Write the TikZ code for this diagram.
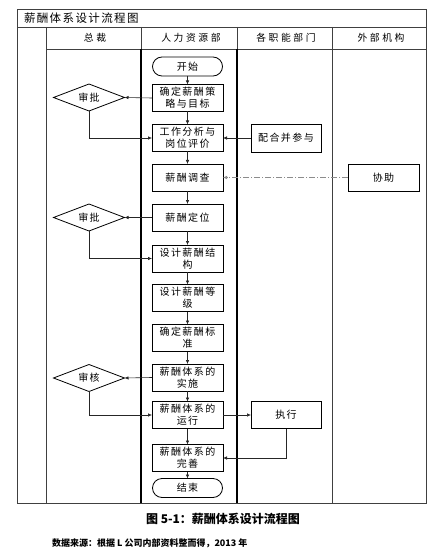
\documentclass[tikz,border=0pt]{standalone}
\usepackage{fontspec}
\setmainfont{Noto Sans CJK SC}
\newfontfamily\cjk[LetterSpace=14]{Noto Sans CJK SC}
\newfontfamily\cjkw[LetterSpace=26]{Noto Sans CJK SC}
\newfontfamily\cjkt[LetterSpace=12]{Noto Sans CJK SC}
\usetikzlibrary{shapes.geometric,arrows.meta}
\begin{document}
\begin{tikzpicture}[x=1pt,y=-1pt,
  every node/.style={inner sep=0pt, outer sep=0pt},
  txt/.style={font=\cjk\fontsize{10}{12}\selectfont, align=center},
  hdr/.style={font=\cjkw\fontsize{9.8}{12}\selectfont},
  box/.style={txt, draw, line width=0.8pt, minimum width=71pt, minimum height=27pt},
  term/.style={txt, draw, line width=0.8pt, rounded corners=9.5pt, minimum width=70pt, minimum height=19pt},
  dec/.style={txt, draw, diamond, aspect=2.6, line width=0.8pt, minimum width=71pt, minimum height=27pt},
  arr/.style={-{Latex[length=4pt,width=3.5pt]}, line width=0.6pt, draw=black!85},
  lane/.style={line width=0.6pt, draw=black!75},
  thicklane/.style={line width=1.6pt, draw=black},
  assist/.style={arr, draw=black!45, dash pattern=on 6pt off 2pt on 1pt off 2pt}
]
\useasboundingbox (0,0) rectangle (445,553);
% frame
\draw[lane] (17,9) rectangle (426,503);
\draw[lane] (17,27) -- (426,27);
\draw[lane] (46,49) -- (426,49);
\draw[lane] (46,27) -- (46,503);
\draw[lane] (141,27) -- (141,49);
\draw[lane] (237,27) -- (237,49);
\draw[lane] (332,27) -- (332,503);
\draw[thicklane] (141,49) -- (141,503);
\draw[thicklane] (237,49) -- (237,503);
% title and headers
\node[anchor=west, font=\cjkt\fontsize{11.5}{13}\selectfont] (title) at (24,18) {薪酬体系设计流程图};
\node[hdr] (h1) at (95,38) {总裁};
\node[hdr] (h2) at (191,38) {人力资源部};
\node[hdr] (h3) at (286,38) {各职能部门};
\node[hdr] (h4) at (381,38) {外部机构};
% HR lane
\node[term] (start) at (187.5,66.5) {开始};
\node[box] (n1) at (187.5,98) {确定薪酬策\\略与目标};
\node[box] (n2) at (187.5,138) {工作分析与\\岗位评价};
\node[box] (n3) at (187.5,177.5) {薪酬调查};
\node[box] (n4) at (187.5,217.5) {薪酬定位};
\node[box] (n5) at (187.5,258.5) {设计薪酬结\\构};
\node[box] (n6) at (187.5,298) {设计薪酬等\\级};
\node[box] (n7) at (187.5,338) {确定薪酬标\\准};
\node[box] (n8) at (187.5,377.5) {薪酬体系的\\实施};
\node[box] (n9) at (187.5,415) {薪酬体系的\\运行};
\node[box] (n10) at (187.5,458) {薪酬体系的\\完善};
\node[term] (end) at (187.5,488) {结束};
% president lane
\node[dec] (d1) at (89,97.5) {审批};
\node[dec] (d2) at (89,217.5) {审批};
\node[dec] (d3) at (89,378) {审核};
% other lanes
\node[box, minimum width=70pt, minimum height=28pt] (p1) at (286,138) {配合并参与};
\node[box, minimum width=70pt] (p2) at (286,415) {执行};
\node[box, minimum width=71pt] (x1) at (383.5,177.5) {协助};
% connectors
\draw[arr] (start) -- (n1);
\draw[arr] (n1) -- (n2);
\draw[arr] (n2) -- (n3);
\draw[arr] (n3) -- (n4);
\draw[arr] (n4) -- (n5);
\draw[arr] (n5) -- (n6);
\draw[arr] (n6) -- (n7);
\draw[arr] (n7) -- (n8);
\draw[arr] (n8) -- (n9);
\draw[arr] (n9) -- (n10);
\draw[arr] (n10) -- (end);
\draw[arr] (n1.west) -- (d1.east);
\draw[arr] (d1.south) |- (n2.west);
\draw[arr] (p1.west) -- (n2.east);
\draw[assist] (x1.west) -- (n3.east);
\draw[arr] (n4.west) -- (d2.east);
\draw[arr] (d2.south) |- (n5.west);
\draw[arr] (n8.west) -- (d3.east);
\draw[arr] (d3.south) |- (n9.west);
\draw[arr] (n9.east) -- (p2.west);
\draw[arr] (p2.south) |- (n10.east);
% caption
\node[font=\fontsize{12}{14}\selectfont\bfseries] (cap) at (223,519) {图 5-1：薪酬体系设计流程图};
\node[anchor=west, font=\fontsize{9}{10}\selectfont\bfseries] (src) at (52,543) {数据来源：根据 L 公司内部资料整而得，2013 年};
\end{tikzpicture}
\end{document}
